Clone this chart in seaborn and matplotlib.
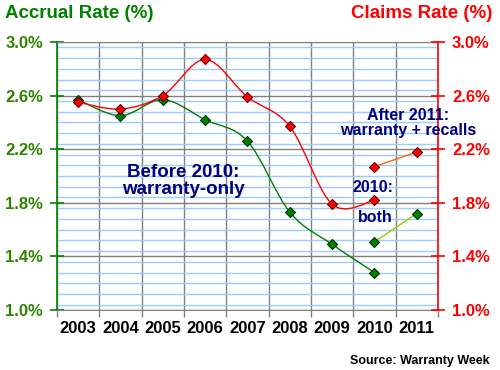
import numpy as np
import matplotlib.pyplot as plt
import seaborn as sns
from matplotlib.path import Path
from matplotlib.patches import PathPatch
from matplotlib.ticker import MultipleLocator, FixedLocator

# data (percent)
years = [2003, 2004, 2005, 2006, 2007, 2008, 2009, 2010]
accrual = [2.57, 2.45, 2.57, 2.42, 2.26, 1.73, 1.49, 1.28]
claims = [2.55, 2.50, 2.60, 2.87, 2.59, 2.37, 1.79, 1.82]
new_years = [2010, 2011]
new_accrual = [1.51, 1.72]
new_claims = [2.07, 2.18]
tick_years = [2003, 2004, 2005, 2006, 2007, 2008, 2009, 2010, 2011]

GREEN = "#008000"
RED = "#ff0000"
NAVY = "#000080"
GRAY = "#808080"
LIGHTBLUE = "#99ccff"

sns.set_style("white")
plt.rcParams["font.family"] = ["Liberation Sans", "DejaVu Sans"]
plt.rcParams["font.weight"] = "bold"


def smooth_path(xs, ys):
    # Excel style smoothed line: Catmull-Rom as cubic Bezier segments
    pts = np.column_stack([xs, ys]).astype(float)
    ext = np.vstack([pts[0], pts, pts[-1]])
    verts = [pts[0]]
    codes = [Path.MOVETO]
    for i in range(len(pts) - 1):
        p0, p1, p2, p3 = ext[i], ext[i + 1], ext[i + 2], ext[i + 3]
        verts += [p1 + (p2 - p0) / 6, p2 - (p3 - p1) / 6, p2]
        codes += [Path.CURVE4] * 3
    return Path(verts, codes)


fig = plt.figure(figsize=(5, 3.7), dpi=100)
ax = fig.add_axes([0.114, 0.162, 0.762, 0.7245])
ax.set_xlim(tick_years[0] - 0.5, tick_years[-1] + 0.5)
ax.set_ylim(1.0, 3.0)

# grid
ax.yaxis.set_major_locator(MultipleLocator(0.4))
ax.yaxis.set_minor_locator(MultipleLocator(0.08))
ax.xaxis.set_major_locator(FixedLocator(tick_years))
ax.xaxis.set_minor_locator(FixedLocator([y - 0.5 for y in tick_years] + [tick_years[-1] + 0.5]))
ax.grid(which="minor", axis="y", color=LIGHTBLUE, lw=1, zorder=0)
ax.grid(which="major", axis="y", color=GRAY, lw=1, zorder=1)
ax.grid(which="minor", axis="x", color=GRAY, lw=1, zorder=1)
ax.set_axisbelow(True)

# smoothed series
ax.add_patch(PathPatch(smooth_path(years, accrual), fill=False, edgecolor=GREEN, lw=1, zorder=3))
ax.add_patch(PathPatch(smooth_path(years, claims), fill=False, edgecolor=RED, lw=1, zorder=3))
sns.scatterplot(x=years, y=accrual, marker="D", s=26, color=GREEN, edgecolor="#003300",
                linewidth=0.8, zorder=4, ax=ax)
sns.scatterplot(x=years, y=claims, marker="D", s=26, color=RED, edgecolor="#660000",
                linewidth=0.8, zorder=4, ax=ax)

# new definition segments
sns.lineplot(x=new_years, y=new_accrual, color="#99cc00", lw=1, marker="D", markersize=5.5,
             markerfacecolor=GREEN, markeredgecolor="#003300", markeredgewidth=0.8, zorder=4, ax=ax)
sns.lineplot(x=new_years, y=new_claims, color="#ff6600", lw=1, marker="D", markersize=5.5,
             markerfacecolor=RED, markeredgecolor="#660000", markeredgewidth=0.8, zorder=4, ax=ax)

# left axis styling
ax.set_yticks(np.arange(1.0, 3.01, 0.4))
ax.yaxis.set_major_formatter(lambda v, p: f"{v:.1f}%")
ax.set_xticklabels([str(y) for y in tick_years])
ax.tick_params(axis="y", which="major", left=True, direction="inout", length=10, width=1.2,
               color=GREEN, labelcolor="#2e8500", labelsize=12, pad=5)
ax.tick_params(axis="y", which="minor", left=False, length=0)
ax.tick_params(axis="x", which="major", bottom=False, length=0, labelsize=12, labelcolor="black", pad=8)
ax.tick_params(axis="x", which="minor", bottom=True, direction="out", length=5, width=1, color=GRAY)
ax.spines["left"].set_color(GREEN)
ax.spines["left"].set_linewidth(1.2)
ax.spines["right"].set_visible(False)
ax.spines["top"].set_color(GRAY)
ax.spines["bottom"].set_color(GRAY)
ax.set_xlabel("")
ax.set_ylabel("")

# right axis
ax2 = ax.twinx()
ax2.set_ylim(1.0, 3.0)
ax2.set_yticks(np.arange(1.0, 3.01, 0.4))
ax2.yaxis.set_major_formatter(lambda v, p: f"{v:.1f}%")
ax2.tick_params(axis="y", which="major", right=True, direction="inout", length=10, width=1.2,
                color=RED, labelcolor=RED, labelsize=12, pad=5)
for side in ["left", "top", "bottom"]:
    ax2.spines[side].set_visible(False)
ax2.spines["right"].set_color(RED)
ax2.spines["right"].set_linewidth(1.2)
ax2.grid(False)

# annotations
ax2.text(2005.48, 1.963, "Before 2010:\nwarranty-only", color=NAVY, fontsize=13.5,
         ha="center", va="center", linespacing=1.05)
ax2.text(2010.79, 2.392, "After 2011:\nwarranty + recalls", color=NAVY, fontsize=11.5,
         ha="center", va="center", linespacing=1.0)
ax2.text(2009.97, 1.918, "2010:", color=NAVY, fontsize=11.5, ha="center", va="center")
ax2.text(2010.01, 1.694, "both", color=NAVY, fontsize=11.5, ha="center", va="center")

fig.text(0.01, 1 - 13 / 370, "Accrual Rate (%)", color=GREEN, fontsize=13.5, ha="left", va="center")
fig.text(0.984, 1 - 13 / 370, "Claims Rate (%)", color=RED, fontsize=13.5, ha="right", va="center")
fig.text(0.98, 1 - 361 / 370, "Source: Warranty Week", color="black", fontsize=9,
         ha="right", va="center")

fig.savefig("out.png", dpi=100)
